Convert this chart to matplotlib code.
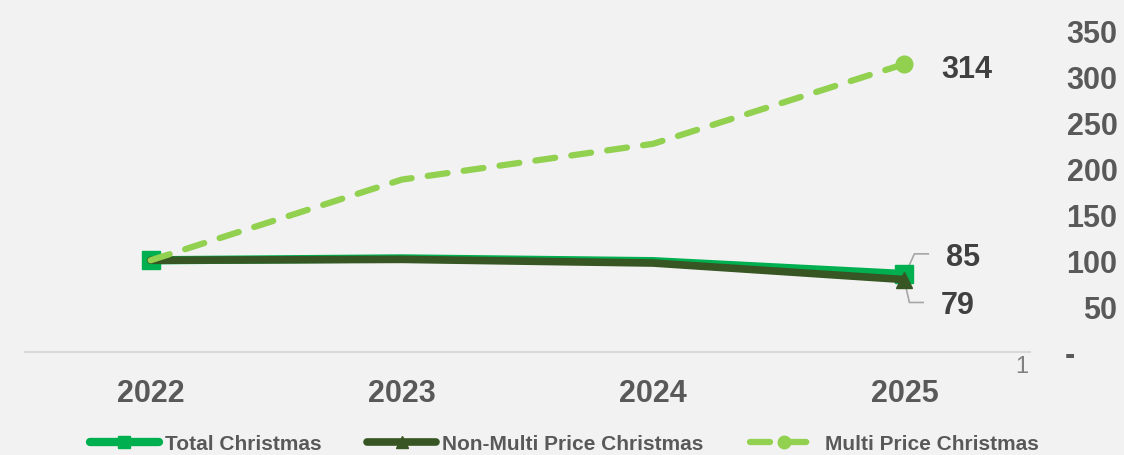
import matplotlib.pyplot as plt

years = ["2022", "2023", "2024", "2025"]
total = [100, 102, 99, 85]
non_multi = [100, 101, 97, 79]
multi = [100, 188, 227, 314]
yticks = [0, 50, 100, 150, 200, 250, 300, 350]
ytick_labels = ["-     ", "50", "100", "150", "200", "250", "300", "350"]

bg = "#f2f2f2"
txt = "#404040"
tick_col = "#595959"
plt.rcParams["font.family"] = ["Liberation Sans", "DejaVu Sans"]

fig = plt.figure(figsize=(11.24, 4.56), dpi=100, facecolor=bg)
ax = fig.add_axes([25 / 1124, 1 - 353 / 456, 1005 / 1124, 321 / 456], facecolor=bg)

x = list(range(len(years)))
ax.plot(x, total, color="#00b050", lw=6, marker="s", ms=13, markevery=[0, 3],
        solid_capstyle="round", label="Total Christmas", zorder=2)
ax.plot(x, non_multi, color="#375623", lw=5.5, marker="^", ms=11, markevery=[3],
        solid_capstyle="round", label="Non-Multi Price Christmas", zorder=3)
ax.plot(x, multi, color="#92d050", lw=4.5, ls=(0, (3.2, 2.6)), marker="o", ms=12,
        markevery=[3], dash_capstyle="round", label="Multi Price Christmas", zorder=4)

ax.set_xlim(-0.5, 3.5)
ax.set_ylim(0, 350)
ax.set_xticks(x)
ax.set_xticklabels(years, fontsize=22, fontweight="bold", color=tick_col)
ax.tick_params(axis="x", length=0, pad=19)
ax.yaxis.tick_right()
ax.set_yticks(yticks)
ax.set_yticklabels(ytick_labels, fontsize=22, fontweight="bold", color=tick_col)
ax.tick_params(axis="y", length=0, pad=63)
for lab in ax.get_yticklabels():
    lab.set_horizontalalignment("right")

for s in ["top", "left", "right"]:
    ax.spines[s].set_visible(False)
ax.spines["bottom"].set_color("#d9d9d9")
ax.spines["bottom"].set_linewidth(1.5)

# data labels
ax.text(3.147, 309, str(multi[3]), fontsize=22, fontweight="bold", color=txt, va="center")
ax.text(3.167, 104, str(total[3]), fontsize=22, fontweight="bold", color=txt, va="center")
ax.text(3.145, 51, str(non_multi[3]), fontsize=22, fontweight="bold", color=txt, va="center")
ax.plot([3.0, 3.04, 3.095], [83, 107, 107], color="#a6a6a6", lw=1.2, zorder=1, clip_on=False)
ax.plot([3.0, 3.02, 3.075], [78, 54, 54], color="#a6a6a6", lw=1.2, zorder=1, clip_on=False)

fig.text(1022 / 1124, 1 - 367 / 456, "1", fontsize=17, color="#808080", ha="center", va="center")

leg = fig.legend(loc="center", bbox_to_anchor=(0.502, 1 - 445 / 456), ncol=3, frameon=False,
                 handlelength=3.3, handletextpad=0.3, columnspacing=2.2,
                 prop={"size": 15, "weight": "bold"})
for t in leg.get_texts():
    t.set_color(tick_col)
for h in leg.legend_handles:
    h.set_markersize(9)

fig.savefig("out.png", dpi=100, facecolor=bg)
